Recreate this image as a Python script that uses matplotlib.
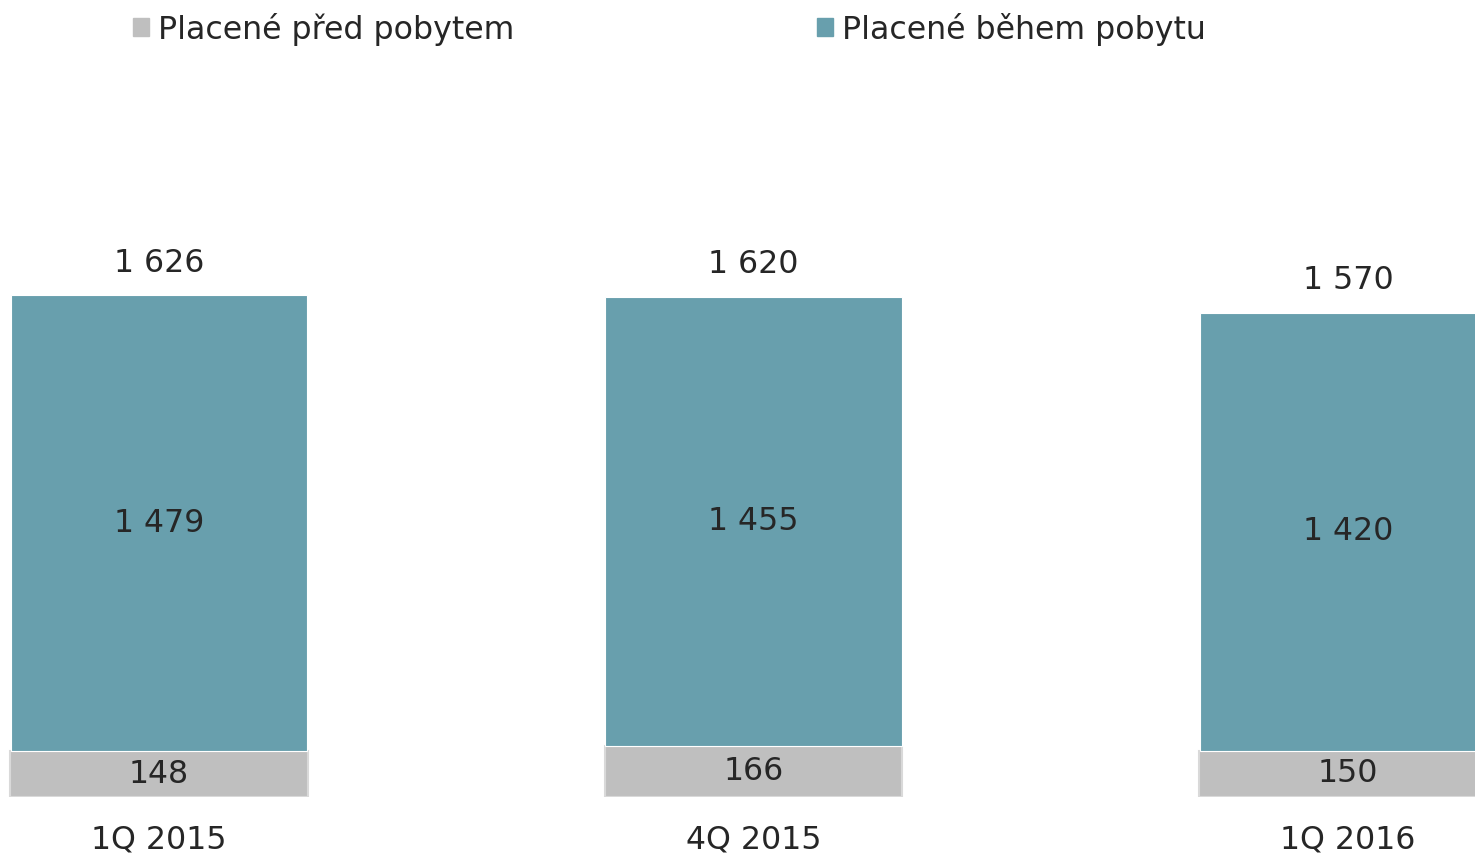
import matplotlib.pyplot as plt
from matplotlib.patches import Patch

# data
kategorie = ["1Q 2015", "4Q 2015", "1Q 2016"]
pred_pobytem = [148, 166, 150]
behem_pobytu = [1479, 1455, 1420]
celkem = [1626, 1620, 1570]

barva_pred = "#bfbfbf"
barva_behem = "#689fad"
barva_textu = "#262626"

plt.rcParams["font.family"] = ["DejaVu Sans"]

fig = plt.figure(figsize=(14.75, 8.56), dpi=100)
ax = fig.add_axes([0, 59 / 856, 1, 797 / 856])

x = list(range(len(kategorie)))
sirka = 0.5

sl1 = ax.bar(x, pred_pobytem, width=sirka, color=barva_pred,
             edgecolor="#d9d9d9", linewidth=1.5)
sl2 = ax.bar(x, behem_pobytu, width=sirka - 0.002, bottom=pred_pobytem,
             color=barva_behem, edgecolor="white", linewidth=0.8)

for i in x:
    ax.text(i, pred_pobytem[i] / 2, str(pred_pobytem[i]), ha="center",
            va="center", fontsize=22.8, color=barva_textu)
    ax.text(i, pred_pobytem[i] + behem_pobytu[i] / 2,
            f"{behem_pobytu[i]:,}".replace(",", " "), ha="center",
            va="center", fontsize=22.8, color=barva_textu)
    ax.annotate(f"{celkem[i]:,}".replace(",", " "), (i, celkem[i]),
                xytext=(0, 12), textcoords="offset points", ha="center",
                va="bottom", fontsize=22.8, color=barva_textu)

ax.set_xlim(-159 / 594.5, 1316 / 594.5)
ax.set_ylim(0, 2583)
ax.set_xticks(x)
ax.set_xticklabels(kategorie, fontsize=22.8, color=barva_textu)
ax.tick_params(axis="x", length=0, pad=20)
ax.set_yticks([])
for s in ax.spines.values():
    s.set_visible(False)

handles = [Patch(color=barva_pred), Patch(color=barva_behem)]
leg = fig.legend(handles, ["Placené před pobytem", "Placené během pobytu"],
                 ncol=2, loc="upper left", bbox_to_anchor=(120 / 1475, 1.0),
                 frameon=False, fontsize=22.8, handlelength=0.5,
                 handleheight=0.5, handletextpad=0.3, columnspacing=9.55,
                 borderaxespad=0)
for t in leg.get_texts():
    t.set_color(barva_textu)

fig.savefig("out.png", dpi=100)
